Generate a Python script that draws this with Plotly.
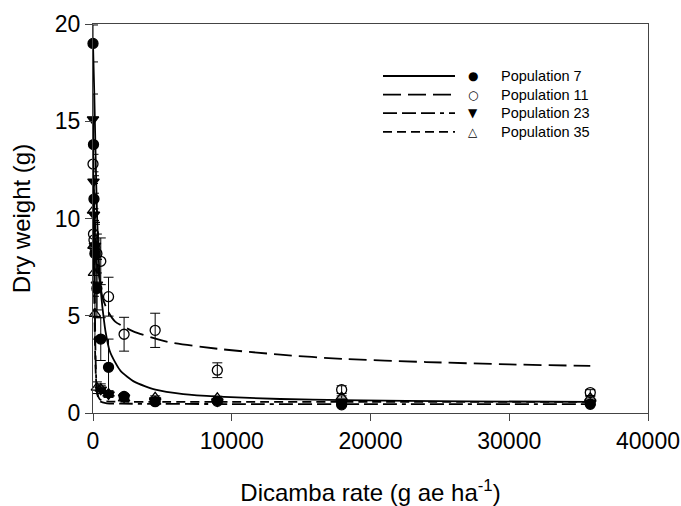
import plotly.graph_objects as go

# application rates (g ae/ha) and mean dry weight (g) +/- SE per population
doses = [0, 35, 70, 140, 280, 560, 1120, 2240, 4480, 8960, 17920, 35840]

pop7_mean = [19.0, 13.8, 11.0, 8.2, 6.4, 3.8, 2.35, 0.85, 0.58, 0.6, 0.42, 0.45]
pop7_se = [0.95, 1.4, 1.2, 1.6, 1.5, 1.1, 1.45, 0.15, 0.1, 0.1, 0.05, 0.05]
pop11_mean = [12.8, 9.2, 8.9, 8.5, 8.2, 7.8, 5.98, 4.05, 4.25, 2.2, 1.2, 1.05]
pop11_se = [1.0, 1.1, 1.0, 1.2, 1.0, 1.2, 1.0, 0.87, 0.88, 0.38, 0.2, 0.15]
pop23_mean = [15.1, 11.9, 10.2, 8.6, 6.6, 1.2, 0.95, 0.8, 0.65, 0.6, 0.5, 0.5]
pop23_se = [1.3, 1.4, 1.1, 1.2, 1.3, 0.2, 0.15, 0.1, 0.08, 0.08, 0.05, 0.05]
pop35_mean = [10.4, 8.6, 7.2, 5.1, 1.3, 1.25, 1.0, 0.75, 0.8, 0.78, 0.82, 0.78]
pop35_se = [1.6, 1.3, 1.2, 1.3, 0.3, 0.25, 0.15, 0.1, 0.08, 0.08, 0.06, 0.06]

# fitted response curves
fit7_x = [0, 100, 200, 300, 450, 600, 750, 900, 1200, 1600, 2000, 3000, 4500, 6500, 9000, 13500, 18000, 27000, 35840]
fit7_y = [19.0, 16.2, 12.8, 10.0, 7.4, 6.0, 5.0, 4.2, 3.2, 2.6, 2.15, 1.6, 1.2, 0.97, 0.84, 0.72, 0.66, 0.6, 0.57]
fit11_x = [0, 100, 200, 400, 700, 1100, 1600, 2900, 5300, 9000, 13500, 18000, 24000, 30000, 35840]
fit11_y = [12.8, 10.5, 9.0, 7.2, 5.9, 5.2, 4.7, 4.2, 3.67, 3.3, 3.0, 2.78, 2.62, 2.5, 2.42]
fit23_x = [0, 50, 100, 150, 200, 300, 500, 1000, 2000, 5000, 10000, 20000, 35840]
fit23_y = [15.1, 12.0, 8.0, 4.5, 2.4, 1.0, 0.6, 0.5, 0.48, 0.47, 0.46, 0.46, 0.46]
fit35_x = [0, 50, 100, 150, 200, 300, 500, 1000, 2000, 5000, 10000, 20000, 35840]
fit35_y = [10.4, 8.2, 5.4, 3.2, 2.0, 1.05, 0.7, 0.6, 0.58, 0.57, 0.57, 0.57, 0.57]

names = ["Population 7", "Population 11", "Population 23", "Population 35"]
means = [pop7_mean, pop11_mean, pop23_mean, pop35_mean]
ses = [pop7_se, pop11_se, pop23_se, pop35_se]
fits = [(fit7_x, fit7_y), (fit11_x, fit11_y), (fit23_x, fit23_y), (fit35_x, fit35_y)]

dashes = ["solid", "18px,7px", "14px,5px,14px,5px,14px,5px,4px,5px", "9px,5px"]
symbols = ["circle", "circle-open", "triangle-down", "triangle-up-open"]
glyphs = ["\u25CF", "\u25CB", "\u25BC", "\u25B3"]

FONT = "Liberation Sans, Arial, sans-serif"

fig = go.Figure()

for (fx, fy), d in zip(fits, dashes):
    fig.add_trace(go.Scatter(x=fx, y=fy, mode="lines", showlegend=False,
                             line=dict(color="black", width=1.8, dash=d, shape="spline", smoothing=0.6),
                             cliponaxis=False, hoverinfo="skip"))

for name, m, s, sym in zip(names, means, ses, symbols):
    fig.add_trace(go.Scatter(
        x=doses, y=m, mode="markers", name=name, showlegend=False,
        marker=dict(symbol=sym, size=10, color="black", line=dict(color="black", width=1.3)),
        error_y=dict(type="data", array=s, visible=True, color="black", thickness=1, width=5),
        cliponaxis=False))

# hand-drawn legend (line sample, symbol, label) like the original
L, R, T, B = 93, 648, 24, 413
def px(x):
    return (x - L) / (R - L)
def py(y):
    return (B - y) / (B - T)

for i, (name, d, g) in enumerate(zip(names, dashes, glyphs)):
    yy = 76 + i * 18.6
    fig.add_shape(type="line", xref="paper", yref="paper",
                  x0=px(383), x1=px(455), y0=py(yy), y1=py(yy),
                  line=dict(color="black", width=1.8, dash=d))
    fig.add_annotation(xref="paper", yref="paper", x=px(473), y=py(yy), text=g,
                       showarrow=False, xanchor="center", yanchor="middle",
                       font=dict(family="DejaVu Sans", size=12, color="black"))
    fig.add_annotation(xref="paper", yref="paper", x=px(499), y=py(yy), text=name,
                       showarrow=False, xanchor="left", yanchor="middle",
                       font=dict(family=FONT, size=14.5, color="black"))

axis_common = dict(showgrid=False, zeroline=False, showline=True, linecolor="#444",
                   linewidth=1, mirror=True, ticks="outside", ticklen=7, automargin=False,
                   tickcolor="#444", tickfont=dict(family=FONT, size=23, color="black"))

fig.update_layout(
    width=681, height=506,
    margin=dict(l=L, r=681 - R, t=T, b=506 - B),
    paper_bgcolor="white", plot_bgcolor="white",
    font=dict(family=FONT, color="black"),
    xaxis=dict(range=[0, 40000], dtick=10000, tickformat="d",
               title=dict(text="Dicamba rate (g ae ha<sup>-1</sup>)",
                          font=dict(family=FONT, size=24), standoff=32),
               **axis_common),
    yaxis=dict(range=[0, 20], dtick=5,
               title=dict(text="Dry weight (g)", font=dict(family=FONT, size=24), standoff=17),
               **axis_common),
)

# drop the browser's default body margin so the figure sits at the page corner
fig.write_html("out.html", config={"displayModeBar": False},
               post_script="document.body.style.margin='0';")
